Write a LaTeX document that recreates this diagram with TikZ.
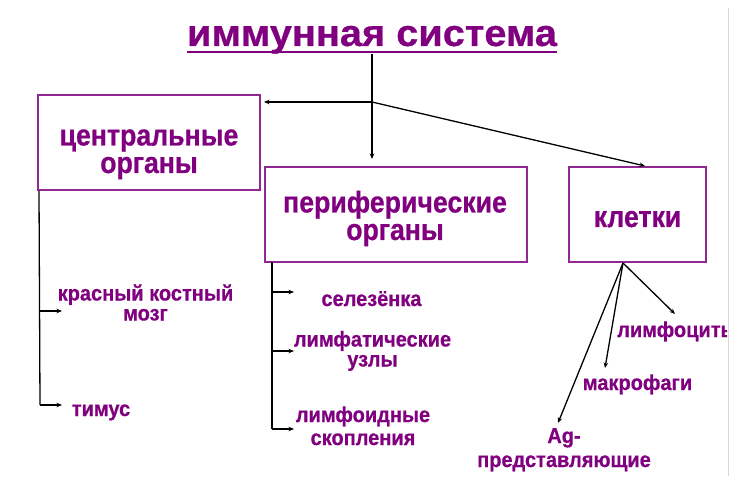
\documentclass[tikz,border=0pt]{standalone}
\usepackage{fontspec}
\setmainfont{Liberation Sans}
\newfontfamily\ttlf{Liberation Sans}[FakeStretch=1.06, BoldFeatures={FakeBold=0.6}]
\newfontfamily\narf{Liberation Sans}[FakeStretch=0.89, BoldFeatures={FakeBold=0.6}]
\newfontfamily\itmf{Liberation Sans}[FakeStretch=0.93, BoldFeatures={FakeBold=0.6}]
\usetikzlibrary{arrows.meta}
\definecolor{txtpurple}{RGB}{128,0,128}
\definecolor{boxpurple}{RGB}{145,40,145}
\definecolor{edgegray}{RGB}{215,215,215}
\begin{document}
\begin{tikzpicture}[x=1pt,y=-1pt,
  box/.style={draw=boxpurple, line width=2pt, inner sep=0pt},
  ttl/.style={text=txtpurple, font=\ttlf\bfseries\fontsize{37.5}{37.5}\selectfont, anchor=base, inner sep=0pt},
  bt/.style={text=txtpurple, font=\narf\bfseries\fontsize{30}{27.5}\selectfont, anchor=base, inner sep=0pt, align=center},
  itm/.style={text=txtpurple, font=\itmf\bfseries\fontsize{21.5}{20}\selectfont, anchor=base, inner sep=0pt, align=center},
  ln/.style={line width=1.3pt, black},
  arr/.style={ln, -{Stealth[length=5.5pt,width=4.5pt]}}
]
\useasboundingbox (0,0) rectangle (741,486);
\fill[white] (0,0) rectangle (741,486);
% faint screen edge
\draw[edgegray, line width=1pt] (728,8) -- (728,476);

% title
\node[ttl] (title) at (372,46) {иммунная система};
\draw[txtpurple, line width=2pt] ([yshift=-6pt]title.base west) -- ([yshift=-6pt]title.base east);

% boxes
\node[box, minimum width=222pt, minimum height=95pt] (cen) at (149,142.5) {};
\node[box, minimum width=262pt, minimum height=95pt] (per) at (396,214.5) {};
\node[box, minimum width=137pt, minimum height=95pt] (cel) at (637.5,214.5) {};

% (base anchor = baseline of the last line)
\node[bt] (centxt) at (149,173) {центральные\\органы};
\node[bt] (pertxt) at (395,240) {периферические\\органы};
\node[bt] (celtxt) at (637.5,227) {клетки};

% top connectors
\coordinate (j) at (372,102);
\draw[ln] (title.south) -- (j);
\draw[arr] (j) -- ([xshift=3pt]cen.east |- j);
\draw[arr] (j) -- ([yshift=7pt]j |- per.north);
\draw[arr] (j) -- ([xshift=7.5pt]cel.north);

% central branch
\node[itm] (kk) at (145.5,320.5) {красный костный\\мозг};
\node[itm] (tim) at (101,416) {тимус};
\coordinate (c1) at (40,311);
\coordinate (c2) at (40,405);
\coordinate (c1e) at (62,311);
\coordinate (c2e) at (62,405);
\draw[ln] ([xshift=2pt]cen.south west) -- (c2);
\draw[arr] (c1) -- (c1e);
\draw[arr] (c2) -- (c2e);

% peripheral branch
\node[itm] (sel) at (371.5,306) {селезёнка};
\node[itm] (lu) at (372.5,366.5) {лимфатические\\узлы};
\node[itm] (ls) at (363,445) {лимфоидные\\[3pt]скопления};
\coordinate (p0) at (272,262);
\coordinate (p1) at (272,292);
\coordinate (p2) at (272,351);
\coordinate (p3) at (272,429);
\coordinate (p1e) at (294,292);
\coordinate (p2e) at (294,351);
\coordinate (p3e) at (294,429);
\draw[ln] (p0) -- (p3);
\draw[arr] (p1) -- (p1e);
\draw[arr] (p2) -- (p2e);
\draw[arr] (p3) -- (p3e);

% cells branch
\begin{scope}
\clip (0,0) rectangle (727,486);
\node[itm, anchor=base west] (lym) at (617,337) {лимфоциты};
\end{scope}
\node[itm] (mak) at (637.5,390) {макрофаги};
\node[itm] (ag) at (564,467) {Ag-\\[4pt]представляющие};
\coordinate (q0) at ([xshift=-14.5pt]cel.south);
\coordinate (q1) at (675,314);
\coordinate (q2) at (605,368);
\coordinate (q3) at (558,423);
\draw[arr] (q0) -- (q1);
\draw[arr] (q0) -- (q2);
\draw[arr] (q0) -- (q3);
\end{tikzpicture}
\end{document}
